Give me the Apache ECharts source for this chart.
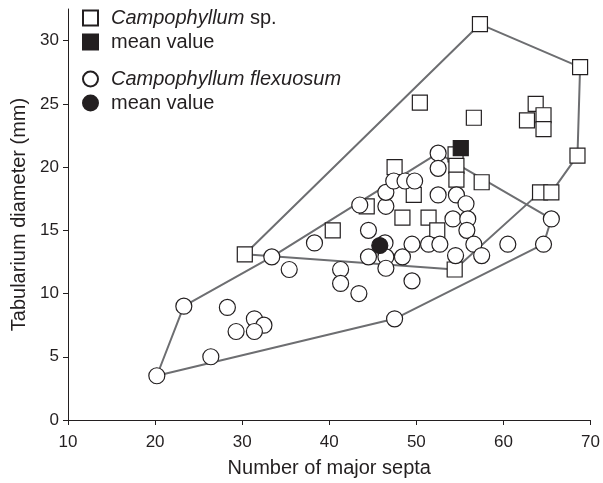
<!DOCTYPE html>
<html>
<head>
<meta charset="utf-8">
<script src="https://cdn.jsdelivr.net/npm/echarts@6/dist/echarts.min.js"></script>
<style>
  html, body { margin: 0; padding: 0; background: #fff; }
  #chart { width: 603px; height: 483px; }
</style>
</head>
<body>
<div id="chart"></div>
<script>
// Campophyllum sp. (open squares): [major septa, tabularium diameter]
const spPoints = [
  [30.3, 13.1], [57.3, 31.3], [68.8, 27.9], [50.4, 25.1], [56.6, 23.9],
  [63.7, 25.0], [62.7, 23.7], [64.6, 24.1], [64.6, 23.0], [68.5, 20.9],
  [54.5, 21.0], [54.6, 20.1], [54.6, 19.0], [57.5, 18.8], [64.2, 18.0],
  [65.5, 18.0], [47.5, 20.0], [49.7, 17.8], [44.3, 16.9], [48.4, 16.0],
  [51.4, 16.0], [52.4, 15.0], [40.4, 15.0], [54.4, 11.9]
];
const spMean = [[55.1, 21.5]];
const spHull = [
  [30.3, 13.1], [57.3, 31.3], [68.8, 27.9], [68.5, 20.9], [65.5, 18.0],
  [64.2, 18.0], [54.4, 11.9], [30.3, 13.1]
];

// Campophyllum flexuosum (open circles)
const flexPoints = [
  [20.2, 3.5], [23.3, 9.0], [26.4, 5.0], [28.3, 8.9], [29.3, 7.0],
  [31.4, 8.0], [32.5, 7.5], [31.4, 7.0], [33.4, 12.9], [35.4, 11.9],
  [38.3, 14.0], [41.3, 11.9], [41.3, 10.8], [43.4, 10.0], [43.5, 17.0],
  [44.5, 15.0], [44.5, 12.9], [46.4, 14.0], [46.5, 12.9], [46.5, 12.0],
  [46.5, 16.9], [46.5, 18.0], [47.4, 18.9], [48.7, 18.9], [49.8, 18.9],
  [48.4, 12.9], [49.5, 13.9], [49.5, 11.0], [47.5, 8.0], [51.4, 13.9],
  [52.7, 13.9], [52.5, 21.1], [52.5, 19.9], [52.5, 17.8], [54.6, 17.8],
  [55.7, 17.1], [54.2, 15.9], [55.9, 15.9], [55.8, 15.0], [56.6, 13.9],
  [54.5, 13.0], [57.5, 13.0], [60.5, 13.9], [64.6, 13.9], [65.5, 15.9]
];
const flexMean = [[45.8, 13.8]];
const flexHull = [
  [52.5, 21.1], [65.5, 15.9], [64.6, 13.9], [47.5, 8.0], [20.2, 3.5],
  [23.3, 9.0], [33.4, 12.9], [52.5, 21.1]
];

const xTicks = [10, 20, 30, 40, 50, 60, 70];
const yTicks = [0, 5, 10, 15, 20, 25, 30];

const FONT = '"Liberation Sans", Arial, sans-serif';
const INK = '#231f20';
const HULL = '#6d6e71';

const legendNames = {
  'Campophyllum sp.': '{i|Campophyllum} sp.',
  'spMean': 'mean value',
  'Campophyllum flexuosum': '{i|Campophyllum flexuosum}',
  'flexMean': 'mean value'
};

const legendText = {
  fontFamily: FONT,
  fontSize: 20,
  color: INK,
  padding: [0, 0, 0, 8],
  rich: { i: { fontFamily: FONT, fontSize: 20, fontStyle: 'italic', color: INK } }
};

const chart = echarts.init(document.getElementById('chart'));

chart.setOption({
  animation: false,
  grid: { left: 68, right: 11, top: 9, bottom: 62 },
  legend: [
    {
      data: ['Campophyllum sp.', 'spMean'],
      orient: 'vertical',
      left: 77, top: 3,
      itemWidth: 15, itemHeight: 15, itemGap: 4,
      formatter: name => legendNames[name],
      textStyle: legendText
    },
    {
      data: ['Campophyllum flexuosum', 'flexMean'],
      orient: 'vertical',
      left: 77, top: 64,
      itemWidth: 15, itemHeight: 15, itemGap: 4,
      formatter: name => legendNames[name],
      textStyle: legendText
    }
  ],
  xAxis: {
    type: 'value',
    min: 10, max: 70, interval: 10,
    name: 'Number of major septa',
    nameLocation: 'middle',
    nameGap: 38,
    nameTextStyle: { fontFamily: FONT, fontSize: 20, color: INK },
    axisLine: { show: true, lineStyle: { color: INK, width: 1 } },
    axisTick: { show: true, length: 5, lineStyle: { color: INK } },
    axisLabel: { fontFamily: FONT, fontSize: 17, color: INK, margin: 14,
      customValues: xTicks },
    splitLine: { show: false }
  },
  yAxis: {
    type: 'value',
    min: 0, max: 32.5,
    name: 'Tabularium diameter (mm)',
    nameLocation: 'middle',
    nameGap: 38,
    nameTextStyle: { fontFamily: FONT, fontSize: 20, color: INK },
    axisLine: { show: true, lineStyle: { color: INK, width: 1 } },
    axisTick: { show: true, length: 5, lineStyle: { color: INK }, customValues: yTicks },
    axisLabel: { fontFamily: FONT, fontSize: 17, color: INK, margin: 9,
      customValues: yTicks },
    splitLine: { show: false }
  },
  series: [
    {
      name: 'spHull', type: 'line', data: spHull, symbol: 'none', silent: true, z: 1,
      lineStyle: { color: HULL, width: 2 }
    },
    {
      name: 'flexHull', type: 'line', data: flexHull, symbol: 'none', silent: true, z: 1,
      lineStyle: { color: HULL, width: 2 }
    },
    {
      name: 'Campophyllum sp.', type: 'scatter', data: spPoints, symbol: 'rect',
      symbolSize: 15, z: 3,
      itemStyle: { color: '#fff', borderColor: INK, borderWidth: 1.2, opacity: 1 }
    },
    {
      name: 'Campophyllum flexuosum', type: 'scatter', data: flexPoints, symbol: 'circle',
      symbolSize: 16, z: 3,
      itemStyle: { color: '#fff', borderColor: INK, borderWidth: 1.2, opacity: 1 }
    },
    {
      name: 'spMean', type: 'scatter', data: spMean, symbol: 'rect',
      symbolSize: 15, z: 4,
      itemStyle: { color: INK, borderColor: INK, borderWidth: 1.2, opacity: 1 }
    },
    {
      name: 'flexMean', type: 'scatter', data: flexMean, symbol: 'circle',
      symbolSize: 16, z: 4,
      itemStyle: { color: INK, borderColor: INK, borderWidth: 1.2, opacity: 1 }
    }
  ]
});
</script>
</body>
</html>
